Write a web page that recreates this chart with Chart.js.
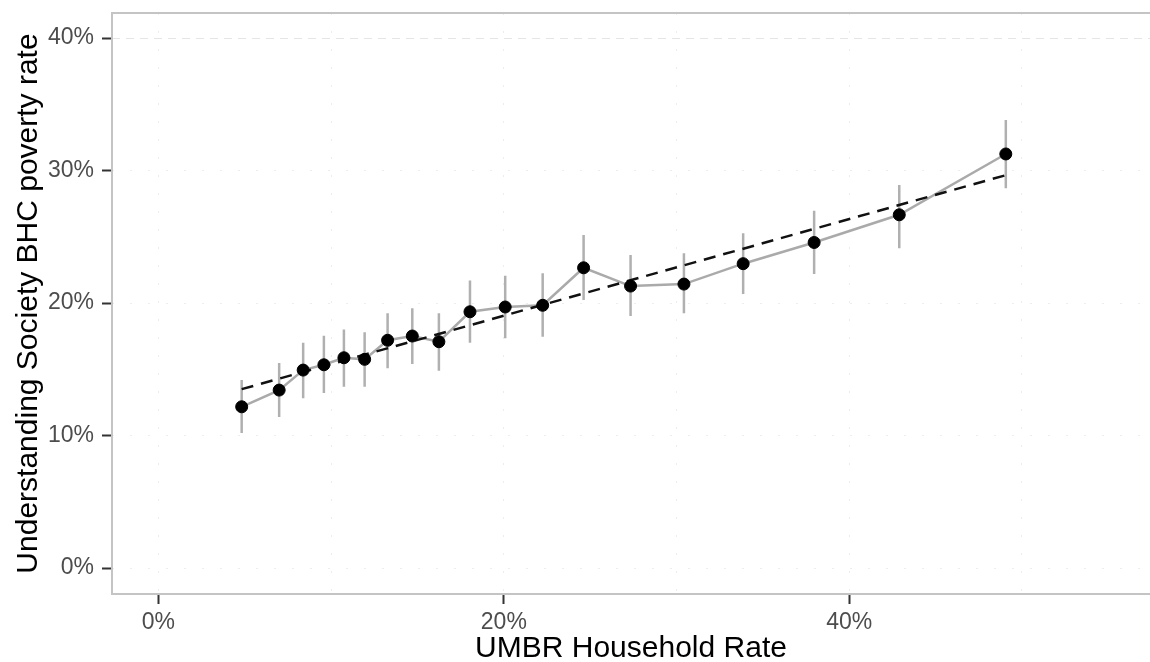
<!DOCTYPE html>
<html>
<head>
<meta charset="utf-8">
<script src="https://cdn.jsdelivr.net/npm/chart.js@4"></script>
<style>
  html, body { margin: 0; padding: 0; background: #fff; }
  #wrap { width: 1150px; height: 662px; }
</style>
</head>
<body>
<div id="wrap"><canvas id="myChart"></canvas></div>
<script>
// UMBR household rate (%) per group and Understanding Society BHC poverty rate (%)
var umbrRate = [4.82, 6.99, 8.38, 9.58, 10.74, 11.94, 13.27, 14.70, 16.24, 18.04,
                20.08, 22.25, 24.62, 27.34, 30.43, 33.86, 37.97, 42.90, 49.07];
var povertyRate = [12.17, 13.43, 14.94, 15.34, 15.87, 15.75, 17.19, 17.51, 17.08, 19.34,
                   19.70, 19.83, 22.66, 21.28, 21.43, 22.97, 24.57, 26.66, 31.25];
var ciLow = [10.19, 11.40, 12.81, 13.21, 13.68, 13.68, 15.07, 15.40, 14.89, 17.00,
             17.34, 17.46, 20.23, 19.02, 19.22, 20.68, 22.19, 24.13, 28.66];
var ciHigh = [14.19, 15.47, 17.00, 17.53, 18.01, 17.79, 19.22, 19.60, 19.22, 21.70,
              22.06, 22.24, 25.13, 23.62, 23.75, 25.26, 26.97, 28.91, 33.81];

// fitted linear trend, end points
var fitX = [4.82, 49.07];
var fitY = [13.5, 29.65];

var xTicks = [0, 10, 20, 30, 40, 50];
var yTicks = [0, 10, 20, 30, 40];

var points = [];
var errBars = [];
for (var i = 0; i < umbrRate.length; i++) {
    points.push({x: umbrRate[i], y: povertyRate[i]});
    errBars.push({x: umbrRate[i], y: ciLow[i]});
    errBars.push({x: umbrRate[i], y: ciHigh[i]});
    errBars.push({x: umbrRate[i], y: null});
}
var fitLine = [];
for (var j = 0; j < fitX.length; j++) {
    fitLine.push({x: fitX[j], y: fitY[j]});
}

// light frame round the plot area
var framePlugin = {
    id: 'frame',
    afterDraw: function(chart) {
        var a = chart.chartArea;
        var ctx = chart.ctx;
        ctx.save();
        ctx.strokeStyle = '#c4c4c4';
        ctx.lineWidth = 2;
        ctx.strokeRect(a.left, a.top, a.right - a.left + 4, a.bottom - a.top);
        ctx.restore();
    }
};

var tickFont = {family: "'Liberation Sans', Arial, sans-serif", size: 23};
var titleFont = {family: "'Liberation Sans', Arial, sans-serif", size: 30, lineHeight: 1};

new Chart(document.getElementById('myChart'), {
    type: 'scatter',
    data: {
        datasets: [
            {
                label: 'CI',
                data: errBars,
                showLine: true,
                spanGaps: false,
                borderColor: '#b0b0b0',
                borderWidth: 2.5,
                pointRadius: 0,
                order: 4
            },
            {
                label: 'Rate',
                data: points,
                showLine: true,
                borderColor: '#aaaaaa',
                borderWidth: 2.5,
                pointRadius: 0,
                order: 3
            },
            {
                label: 'Fit',
                data: fitLine,
                showLine: true,
                borderColor: '#111',
                borderWidth: 2.5,
                borderDash: [12, 8],
                pointRadius: 0,
                order: 2
            },
            {
                label: 'Points',
                data: points,
                showLine: false,
                backgroundColor: '#000',
                borderColor: '#000',
                pointRadius: 6,
                order: 1
            }
        ]
    },
    plugins: [framePlugin],
    options: {
        responsive: true,
        maintainAspectRatio: false,
        animation: false,
        layout: {autoPadding: false, padding: {top: 13, right: 0, left: 0, bottom: 0}},
        plugins: {
            legend: {display: false},
            tooltip: {enabled: false}
        },
        scales: {
            x: {
                type: 'linear',
                min: -2.69,
                max: 57.42,
                afterFit: function(s) {
                    s.height = 68;
                    s.paddingLeft = 0;
                    s.paddingRight = 0;
                },
                afterBuildTicks: function(s) {
                    s.ticks = xTicks.map(function(v) { return {value: v}; });
                },
                border: {display: false, dash: [2, 16]},
                grid: {
                    color: 'rgba(0,0,0,0.07)',
                    lineWidth: 1,
                    tickLength: 10,
                    tickWidth: 2,
                    tickColor: function(c) {
                        return c.tick && c.tick.value % 20 === 0 ? '#333' : 'rgba(0,0,0,0)';
                    }
                },
                ticks: {
                    font: tickFont,
                    color: '#4d4d4d',
                    padding: 5,
                    maxRotation: 0,
                    autoSkip: false,
                    callback: function(v) { return v % 20 === 0 ? v + '%' : ''; }
                },
                title: {
                    display: true,
                    text: 'UMBR Household Rate',
                    font: titleFont,
                    color: '#000',
                    padding: {top: 0, bottom: -2}
                }
            },
            y: {
                type: 'linear',
                min: -1.96,
                max: 41.89,
                afterFit: function(s) {
                    s.width = 112;
                    s.paddingTop = 0;
                    s.paddingBottom = 0;
                },
                afterBuildTicks: function(s) {
                    s.ticks = yTicks.map(function(v) { return {value: v}; });
                },
                border: {display: false, dash: function(c) {
                    return c.tick && c.tick.value === 40 ? [8, 6] : [2, 16];
                }},
                grid: {
                    color: function(c) {
                        return c.tick && c.tick.value === 40 ? 'rgba(0,0,0,0.1)' : 'rgba(0,0,0,0.07)';
                    },
                    lineWidth: 1,
                    tickLength: 10,
                    tickWidth: 2,
                    tickColor: '#333'
                },
                ticks: {
                    font: tickFont,
                    color: '#4d4d4d',
                    padding: 8,
                    callback: function(v) { return v + '%'; }
                },
                title: {
                    display: true,
                    text: 'Understanding Society BHC poverty rate',
                    font: titleFont,
                    color: '#000',
                    padding: {top: 14, bottom: 0}
                }
            }
        }
    }
});
</script>
</body>
</html>
